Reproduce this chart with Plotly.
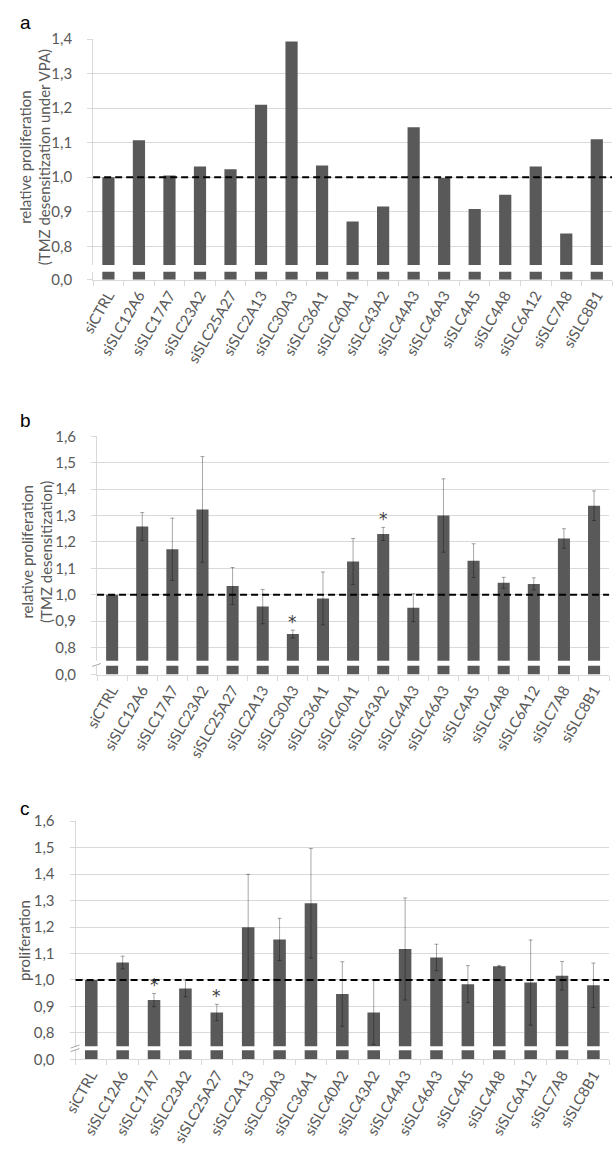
import plotly.graph_objects as go
from plotly.subplots import make_subplots

W, H = 614, 1159

cats_ab = ["siCTRL", "siSLC12A6", "siSLC17A7", "siSLC23A2", "siSLC25A27", "siSLC2A13",
           "siSLC30A3", "siSLC36A1", "siSLC40A1", "siSLC43A2", "siSLC44A3", "siSLC46A3",
           "siSLC4A5", "siSLC4A8", "siSLC6A12", "siSLC7A8", "siSLC8B1"]
cats_c = ["siCTRL", "siSLC12A6", "siSLC17A7", "siSLC23A2", "siSLC25A27", "siSLC2A13",
          "siSLC30A3", "siSLC36A1", "siSLC40A2", "siSLC43A2", "siSLC44A3", "siSLC46A3",
          "siSLC4A5", "siSLC4A8", "siSLC6A12", "siSLC7A8", "siSLC8B1"]

# a: TMZ desensitization under VPA (no error bars)
vals_a = [1.000, 1.107, 1.005, 1.031, 1.023, 1.210, 1.393, 1.034, 0.872, 0.915,
          1.145, 0.998, 0.908, 0.949, 1.031, 0.837, 1.110]

# b: TMZ desensitization
vals_b = [1.000, 1.258, 1.172, 1.323, 1.033, 0.955, 0.851, 0.986, 1.126, 1.230,
          0.951, 1.300, 1.129, 1.045, 1.041, 1.213, 1.337]
err_b = [0.0, 0.053, 0.118, 0.200, 0.070, 0.065, 0.015, 0.100, 0.087, 0.025,
         0.053, 0.139, 0.064, 0.021, 0.023, 0.037, 0.056]
stars_b = ["siSLC30A3", "siSLC43A2"]

# c: proliferation
vals_c = [1.000, 1.066, 0.924, 0.968, 0.877, 1.199, 1.153, 1.290, 0.947, 0.877,
          1.117, 1.085, 0.984, 1.052, 0.990, 1.016, 0.980]
err_c = [0.0, 0.024, 0.025, 0.032, 0.031, 0.200, 0.080, 0.207, 0.122, 0.121,
         0.193, 0.050, 0.070, 0.003, 0.161, 0.054, 0.084]
stars_c = ["siSLC17A7", "siSLC25A27"]

BAR = "#595959"
GRID = "#d9d9d9"
TXT = "#595959"
FONT = "Lato"


def px_x(p):
    return p / W


def px_y(p):
    return 1 - p / H


panels = [
    dict(cats=cats_ab, vals=vals_a, err=None, stars=[], letter="a", ly=0, top=1.4,
         x0=81, x1=612, up=(29.5, 259), low=(266, 274), lo=0.746,
         title="relative proliferation<br>(TMZ desensitization under VPA)", tx=21, ty=150),
    dict(cats=cats_ab, vals=vals_b, err=err_b, stars=stars_b, letter="b", ly=404, top=1.6,
         x0=85, x1=609, up=(433, 661), low=(666, 675), lo=0.75,
         title="relative proliferation<br>(TMZ desensitization)", tx=24, ty=550),
    dict(cats=cats_c, vals=vals_c, err=err_c, stars=stars_c, letter="c", ly=798, top=1.6,
         x0=63, x1=609, up=(824, 1052.7), low=(1056.7, 1066), lo=0.749,
         title="proliferation", tx=11, ty=945),
]

fig = make_subplots(rows=6, cols=1)
annotations = []
shapes = []
tfont = dict(family=FONT, size=15, color=TXT)

for k, p in enumerate(panels):
    ru, rl = 2 * k + 1, 2 * k + 2
    err = p["err"]
    fig.add_trace(go.Bar(
        x=p["cats"], y=p["vals"], marker_color=BAR, marker_line_width=0,
        error_y=dict(type="data", array=err if err else [0] * len(p["vals"]),
                     visible=err is not None, color="rgba(0,0,0,0.35)",
                     thickness=1, width=2),
        showlegend=False), row=ru, col=1)
    fig.add_trace(go.Bar(x=p["cats"], y=p["vals"], marker_color=BAR,
                         marker_line_width=0, showlegend=False), row=rl, col=1)
    fig.add_hline(y=1.0, line=dict(color="black", dash="7px,4px", width=2), row=ru, col=1)

    xd = [px_x(p["x0"]), px_x(p["x1"])]
    fig.update_xaxes(domain=xd, showticklabels=False, showgrid=False, showline=False,
                     ticks="", row=ru, col=1)
    fig.update_xaxes(domain=xd, showgrid=False, showline=True, linecolor=GRID, linewidth=1,
                     ticks="outside", tickson="boundaries", ticklen=5, tickcolor=GRID,
                     tickangle=-60, tickfont=tfont, row=rl, col=1)
    fig.update_yaxes(domain=[px_y(p["up"][1]), px_y(p["up"][0])],
                     range=[p["lo"], p["top"]], tick0=0, dtick=0.1, tickformat=".1f",
                     showgrid=True, gridcolor=GRID, gridwidth=1, zeroline=False,
                     showline=True, linecolor=GRID, ticks="outside", ticklen=5,
                     tickcolor=GRID, ticklabelstandoff=12, tickfont=tfont, row=ru, col=1)
    fig.update_yaxes(domain=[px_y(p["low"][1]), px_y(p["low"][0])],
                     range=[0, 0.03], tickvals=[0], ticktext=["0,0"], showgrid=False,
                     zeroline=False, showline=True, linecolor=GRID, ticks="outside",
                     ticklen=5, tickcolor=GRID, ticklabelstandoff=12, tickfont=tfont,
                     row=rl, col=1)

    # axis break marks
    yb = (p["up"][1] + p["low"][0]) / 2
    for dy in (-1.8, 1.8):
        shapes.append(dict(type="line", xref="paper", yref="paper",
                           x0=px_x(p["x0"] - 5), x1=px_x(p["x0"] + 4),
                           y0=px_y(yb + dy + 1.5), y1=px_y(yb + dy - 1.5),
                           line=dict(color="#a6a6a6", width=1)))

    # significance stars
    ya = f"y{ru}" if ru > 1 else "y"
    xa = f"x{ru}" if ru > 1 else "x"
    for s in p["stars"]:
        i = p["cats"].index(s)
        annotations.append(dict(x=s, y=p["vals"][i] + (err[i] if err else 0),
                                xref=xa, yref=ya, text="*", showarrow=False,
                                yanchor="bottom", yshift=-4,
                                font=dict(family="DejaVu Sans", size=17, color="#404040")))

    annotations.append(dict(x=px_x(4), y=px_y(p["ly"]), xref="paper", yref="paper",
                            xanchor="left", yanchor="top", text=p["letter"],
                            showarrow=False,
                            font=dict(family="Liberation Sans", size=19, color="black")))
    annotations.append(dict(x=px_x(p["tx"]), y=px_y(p["ty"]), xref="paper", yref="paper",
                            xanchor="center", yanchor="middle", textangle=-90,
                            text=p["title"], showarrow=False, font=tfont))

fig.update_layout(width=W, height=H, margin=dict(l=0, r=0, t=0, b=0),
                  paper_bgcolor="white", plot_bgcolor="white", bargap=0.6,
                  separators=",.", showlegend=False,
                  annotations=annotations, shapes=shapes)

fig.write_html("out.html", config={"displayModeBar": False},
               post_script="document.body.style.margin='0px';")
